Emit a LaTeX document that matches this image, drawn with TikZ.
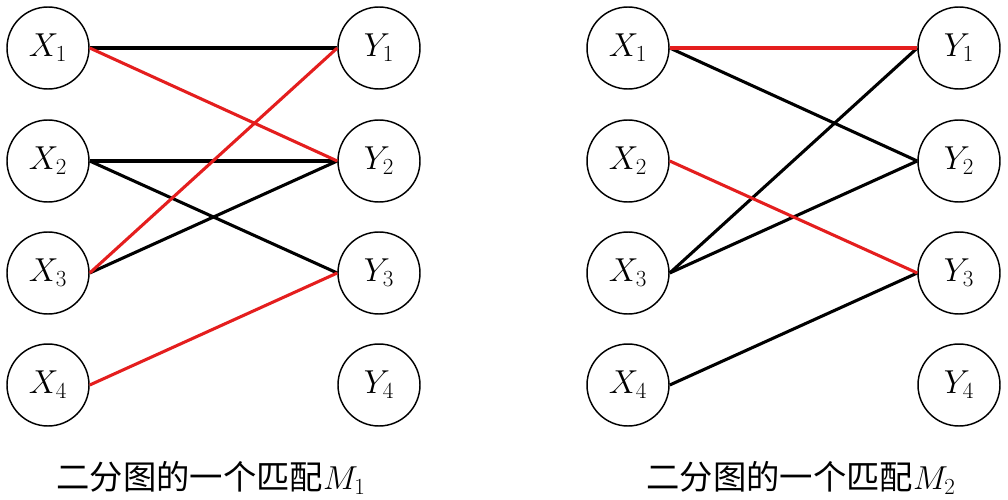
\documentclass[tikz,border=0pt]{standalone}
\usepackage{fontspec}
\newfontfamily\cjk{Noto Sans CJK SC}
\definecolor{matchred}{RGB}{228,30,30}
\begin{document}
\begin{tikzpicture}[x=0.75pt,y=-0.75pt,
  vtx/.style={draw,circle,line width=1.1pt,minimum size=61.5pt,inner sep=0pt,font=\fontsize{24}{28}\selectfont},
  edgeb/.style={line width=2.3pt,black},
  edger/.style={line width=2.3pt,matchred},
  captext/.style={font=\fontsize{25}{30}\selectfont\cjk,inner sep=0pt}]
\useasboundingbox (0,0) rectangle (1008,500);
% left graph
\node[vtx] (lx1) at (48,48) {$X_1$};
\node[vtx] (lx2) at (48,161) {$X_2$};
\node[vtx] (lx3) at (48,273) {$X_3$};
\node[vtx] (lx4) at (48,385) {$X_4$};
\node[vtx] (ly1) at (379,48) {$Y_1$};
\node[vtx] (ly2) at (379,161) {$Y_2$};
\node[vtx] (ly3) at (379,273) {$Y_3$};
\node[vtx] (ly4) at (379,385) {$Y_4$};
\draw[edgeb] (lx1.east) -- (ly1.west);
\draw[edgeb] (lx2.east) -- (ly2.west);
\draw[edgeb] (lx2.east) -- (ly3.west);
\draw[edgeb] (lx3.east) -- (ly2.west);
\draw[edger] (lx1.east) -- (ly2.west);
\draw[edger] (lx3.east) -- (ly1.west);
\draw[edger] (lx4.east) -- (ly3.west);
\node[captext] (lcap) at (211,478) {二分图的一个匹配$M_1$};
% right graph
\node[vtx] (rx1) at (628,48) {$X_1$};
\node[vtx] (rx2) at (628,161) {$X_2$};
\node[vtx] (rx3) at (628,273) {$X_3$};
\node[vtx] (rx4) at (628,385) {$X_4$};
\node[vtx] (ry1) at (959,48) {$Y_1$};
\node[vtx] (ry2) at (959,161) {$Y_2$};
\node[vtx] (ry3) at (959,273) {$Y_3$};
\node[vtx] (ry4) at (959,385) {$Y_4$};
\draw[edgeb] (rx1.east) -- (ry2.west);
\draw[edgeb] (rx3.east) -- (ry1.west);
\draw[edgeb] (rx3.east) -- (ry2.west);
\draw[edgeb] (rx4.east) -- (ry3.west);
\draw[edger] (rx1.east) -- (ry1.west);
\draw[edger] (rx2.east) -- (ry3.west);
\node[captext] (rcap) at (801,478) {二分图的一个匹配$M_2$};
\end{tikzpicture}
\end{document}
